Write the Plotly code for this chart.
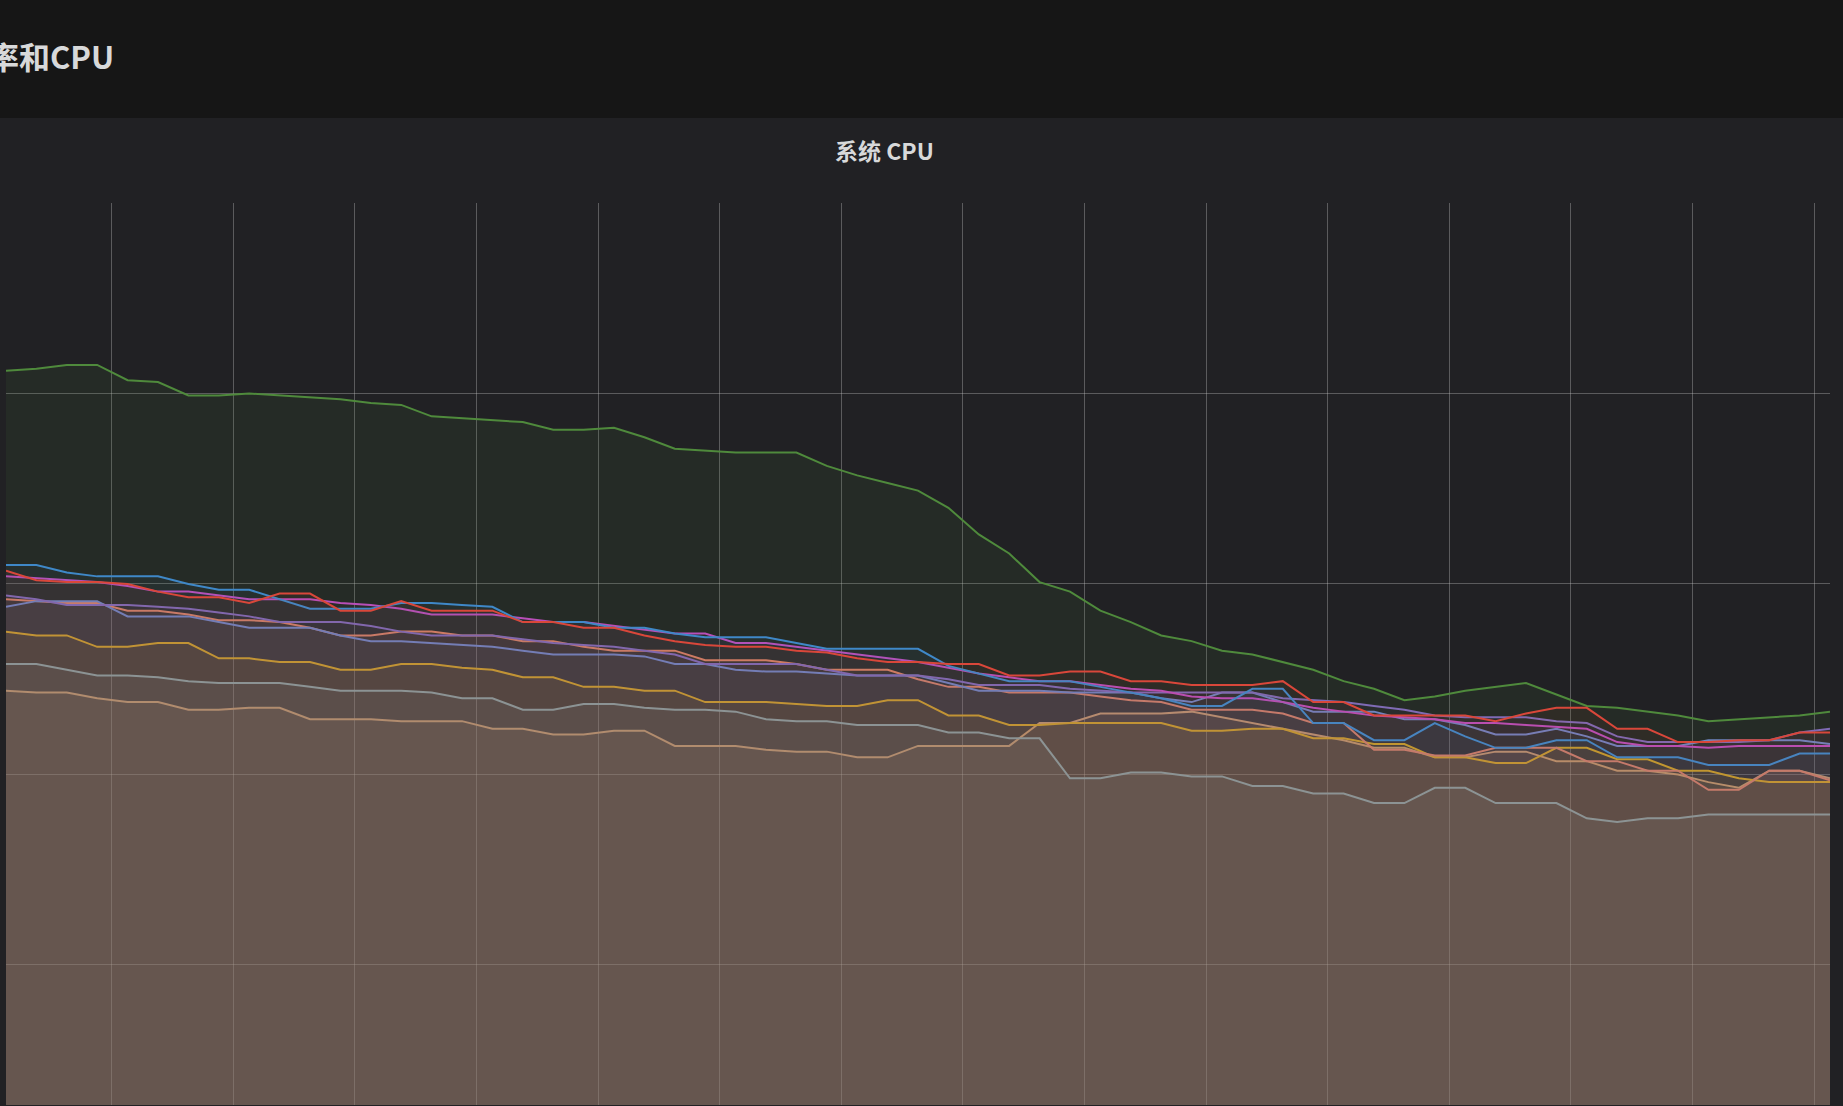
import plotly.graph_objects as go

x = list(range(61))
green = [4.12,4.13,4.15,4.15,4.07,4.06,3.99,3.99,4.00,3.99,3.98,3.97,3.95,3.94,3.88,3.87,3.86,3.85,3.81,3.81,3.82,3.77,3.71,3.70,3.69,3.69,3.69,3.62,3.57,3.53,3.49,3.40,3.26,3.16,3.01,2.96,2.86,2.80,2.73,2.70,2.65,2.63,2.59,2.55,2.49,2.45,2.39,2.41,2.44,2.46,2.48,2.42,2.36,2.35,2.33,2.31,2.28,2.29,2.30,2.31,2.33]
teal = [2.58,2.58,2.55,2.52,2.52,2.51,2.49,2.48,2.48,2.48,2.46,2.44,2.44,2.44,2.43,2.40,2.40,2.34,2.34,2.37,2.37,2.35,2.34,2.34,2.33,2.29,2.28,2.28,2.26,2.26,2.26,2.22,2.22,2.19,2.19,1.98,1.98,2.01,2.01,1.99,1.99,1.94,1.94,1.90,1.90,1.85,1.85,1.93,1.93,1.85,1.85,1.85,1.77,1.75,1.77,1.77,1.79,1.79,1.79,1.79,1.79]
tan = [2.44,2.43,2.43,2.40,2.38,2.38,2.34,2.34,2.35,2.35,2.29,2.29,2.29,2.28,2.28,2.28,2.24,2.24,2.21,2.21,2.23,2.23,2.15,2.15,2.15,2.13,2.12,2.12,2.09,2.09,2.15,2.15,2.15,2.15,2.27,2.27,2.32,2.32,2.32,2.33,2.30,2.27,2.24,2.21,2.18,2.14,2.14,2.09,2.09,2.12,2.12,2.07,2.07,2.02,2.02,2.00,1.96,1.93,2.02,2.02,1.98]
yellow = [2.75,2.73,2.73,2.67,2.67,2.69,2.69,2.61,2.61,2.59,2.59,2.55,2.55,2.58,2.58,2.56,2.55,2.51,2.51,2.46,2.46,2.44,2.44,2.38,2.38,2.38,2.37,2.36,2.36,2.39,2.39,2.31,2.31,2.26,2.26,2.27,2.27,2.27,2.27,2.23,2.23,2.24,2.24,2.19,2.19,2.16,2.16,2.09,2.09,2.06,2.06,2.14,2.14,2.08,2.08,2.02,2.02,1.98,1.96,1.96,1.96]
orange = [2.92,2.91,2.90,2.90,2.86,2.86,2.84,2.81,2.81,2.80,2.77,2.73,2.73,2.75,2.75,2.73,2.73,2.70,2.70,2.67,2.65,2.65,2.65,2.60,2.60,2.60,2.58,2.55,2.55,2.55,2.50,2.46,2.46,2.43,2.43,2.43,2.41,2.39,2.38,2.34,2.34,2.34,2.32,2.27,2.27,2.13,2.13,2.10,2.10,2.14,2.14,2.14,2.07,2.07,2.02,2.02,1.92,1.92,2.02,2.02,1.97]
red = [3.07,3.02,3.01,3.01,3.00,2.96,2.93,2.93,2.90,2.95,2.95,2.86,2.86,2.91,2.86,2.86,2.86,2.80,2.80,2.77,2.77,2.73,2.70,2.68,2.67,2.67,2.65,2.64,2.61,2.59,2.59,2.58,2.58,2.52,2.52,2.54,2.54,2.49,2.49,2.47,2.47,2.47,2.49,2.38,2.38,2.31,2.31,2.31,2.31,2.28,2.32,2.35,2.35,2.24,2.24,2.17,2.17,2.18,2.18,2.22,2.22]
blue = [3.10,3.10,3.06,3.04,3.04,3.04,3.00,2.97,2.97,2.92,2.87,2.87,2.87,2.90,2.90,2.89,2.88,2.80,2.80,2.80,2.77,2.77,2.74,2.72,2.72,2.72,2.69,2.66,2.66,2.66,2.66,2.57,2.53,2.49,2.49,2.49,2.46,2.43,2.40,2.36,2.36,2.45,2.45,2.27,2.27,2.18,2.18,2.27,2.20,2.14,2.14,2.18,2.18,2.09,2.09,2.09,2.05,2.05,2.05,2.11,2.11]
steel = [2.88,2.91,2.91,2.91,2.83,2.83,2.83,2.80,2.77,2.77,2.77,2.73,2.70,2.70,2.69,2.68,2.67,2.65,2.63,2.63,2.63,2.62,2.58,2.58,2.55,2.54,2.54,2.53,2.52,2.52,2.52,2.48,2.44,2.44,2.44,2.43,2.43,2.43,2.40,2.38,2.43,2.43,2.38,2.33,2.33,2.33,2.29,2.29,2.26,2.21,2.21,2.24,2.20,2.15,2.15,2.15,2.18,2.18,2.18,2.18,2.16]
magenta = [3.04,3.03,3.02,3.01,2.99,2.96,2.96,2.94,2.92,2.92,2.92,2.90,2.89,2.87,2.84,2.84,2.84,2.82,2.80,2.80,2.78,2.76,2.74,2.74,2.69,2.69,2.67,2.65,2.63,2.61,2.59,2.56,2.53,2.51,2.49,2.49,2.47,2.45,2.44,2.41,2.40,2.40,2.38,2.35,2.33,2.31,2.30,2.29,2.27,2.27,2.26,2.25,2.24,2.17,2.15,2.15,2.14,2.15,2.15,2.15,2.15]
purple = [2.94,2.92,2.89,2.89,2.89,2.88,2.87,2.85,2.83,2.80,2.80,2.80,2.78,2.75,2.73,2.73,2.73,2.71,2.69,2.68,2.67,2.65,2.63,2.58,2.58,2.58,2.58,2.55,2.52,2.52,2.52,2.50,2.47,2.47,2.47,2.45,2.44,2.43,2.43,2.43,2.43,2.43,2.40,2.39,2.38,2.36,2.34,2.31,2.30,2.30,2.30,2.28,2.27,2.20,2.17,2.17,2.17,2.17,2.18,2.22,2.24]

series = [
    (green, "#4f8a3c", 0.1), (tan, "#c49a66", 0.13), (teal, "#7fa8aa", 0.12), (yellow, "#d4a812", 0.1),
    (orange, "#d9825e", 0.09), (steel, "#6f86c0", 0.06), (purple, "#7f6bb5", 0.05), (magenta, "#b84fb8", 0.04),
    (blue, "#3f88c8", 0.06), (red, "#d9473a", 0.06),
]

def rgba(h, a):
    h = h.lstrip("#")
    return "rgba(%d,%d,%d,%s)" % (int(h[0:2], 16), int(h[2:4], 16), int(h[4:6], 16), a)

fig = go.Figure()
for ys, c, a in series:
    fig.add_trace(go.Scatter(x=x, y=ys, mode="lines", line=dict(color=c, width=2),
                             fill="tozeroy", fillcolor=rgba(c, a), hoverinfo="skip"))

W, H = 1843, 1106
L, R, T, B = 6, 13, 203, 1
pw, ph = W - L - R, H - T - B
def px(v): return (v - L) / pw
def py(v): return (H - B - v) / ph

fig.update_layout(
    width=W, height=H, margin=dict(l=L, r=R, t=T, b=B),
    paper_bgcolor="#212124", plot_bgcolor="#212124", showlegend=False,
    xaxis=dict(range=[0, 60], showticklabels=False, tick0=3.48, dtick=4, showgrid=True,
               gridcolor="rgba(200,200,200,0.35)", gridwidth=1, zeroline=False, showline=False),
    yaxis=dict(range=[0.265, 5.0], showticklabels=False, tick0=0, dtick=1, showgrid=True,
               gridcolor="rgba(200,200,200,0.35)", gridwidth=1, zeroline=False, showline=False),
    shapes=[dict(type="rect", xref="paper", yref="paper", x0=px(-10), x1=px(W + 10),
                 y0=py(118), y1=py(-5), fillcolor="#161616", line=dict(width=0), layer="below")],
    annotations=[
        dict(text="<b>使用率和CPU</b>", xref="paper", yref="paper", x=px(116), y=py(56),
             xanchor="right", yanchor="middle", showarrow=False,
             font=dict(family="Noto Sans CJK SC", size=31, color="#d8d9da")),
        dict(text="<b>系统 CPU</b>", xref="paper", yref="paper", x=px(884), y=py(150),
             xanchor="center", yanchor="middle", showarrow=False,
             font=dict(family="Noto Sans CJK SC", size=23, color="#d8d9da")),
    ],
)
fig.write_html("out.html", config={"displayModeBar": False})
with open("out.html", encoding="utf-8") as f:
    html = f.read()
html = html.replace("<head>", "<head><style>html,body{margin:0;padding:0;overflow:hidden;background:#212124;}</style>", 1)
with open("out.html", "w", encoding="utf-8") as f:
    f.write(html)
